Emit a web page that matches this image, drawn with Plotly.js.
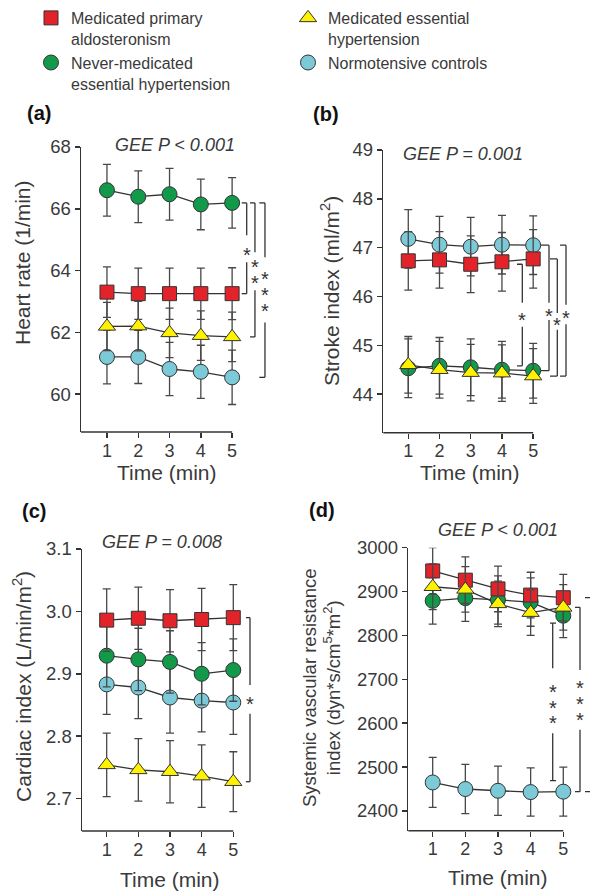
<!DOCTYPE html>
<html><head><meta charset="utf-8">
<script src="https://cdn.plot.ly/plotly-3.0.1.min.js"></script>
<style>html,body{margin:0;padding:0;background:#fff}#chart{width:590px;height:892px}</style>
</head><body><div id="chart"></div>
<script>
// ---------- data ----------
const time = [1, 2, 3, 4, 5];
const groupNames = {
  PA: 'Medicated primary<br>aldosteronism',
  EH: 'Medicated essential<br>hypertension',
  NM: 'Never-medicated<br>essential hypertension',
  NC: 'Normotensive controls'
};

// (a) Heart rate (1/min)
const hrPA = [63.30, 63.25, 63.25, 63.25, 63.25];
const hrPAErr = [0.82, 0.83, 0.83, 0.83, 0.84];
const hrEH = [62.19, 62.20, 61.98, 61.89, 61.85];
const hrEHErr = [0.78, 0.80, 0.80, 0.80, 0.80];
const hrNM = [66.60, 66.39, 66.47, 66.14, 66.19];
const hrNMErr = [0.84, 0.84, 0.84, 0.82, 0.82];
const hrNC = [61.20, 61.20, 60.81, 60.72, 60.54];
const hrNCErr = [0.87, 0.86, 0.86, 0.86, 0.88];

// (b) Stroke index (ml/m2)
const siPA = [46.73, 46.75, 46.66, 46.71, 46.77];
const siPAErr = [0.60, 0.58, 0.58, 0.60, 0.60];
const siEH = [44.60, 44.50, 44.44, 44.43, 44.37];
const siEHErr = [0.58, 0.58, 0.58, 0.58, 0.56];
const siNM = [44.53, 44.58, 44.55, 44.50, 44.48];
const siNMErr = [0.60, 0.58, 0.58, 0.58, 0.56];
const siNC = [47.18, 47.06, 47.02, 47.06, 47.05];
const siNCErr = [0.60, 0.58, 0.60, 0.60, 0.60];

// (c) Cardiac index (L/min/m2)
const ciPA = [2.986, 2.989, 2.985, 2.987, 2.990];
const ciPAErr = [0.050, 0.050, 0.050, 0.050, 0.053];
const ciEH = [2.754, 2.746, 2.743, 2.736, 2.727];
const ciEHErr = [0.051, 0.050, 0.050, 0.050, 0.048];
const ciNM = [2.929, 2.923, 2.919, 2.900, 2.906];
const ciNMErr = [0.050, 0.050, 0.050, 0.050, 0.050];
const ciNC = [2.883, 2.878, 2.862, 2.857, 2.854];
const ciNCErr = [0.048, 0.050, 0.057, 0.050, 0.051];

// (d) Systemic vascular resistance index
const svPA = [2947, 2926, 2906, 2892, 2886];
const svPAErr = [53, 53, 52, 52, 53];
const svEH = [2911, 2905, 2872, 2852, 2864];
const svEHErr = [52, 52, 52, 52, 52];
const svNM = [2879, 2885, 2881, 2876, 2845];
const svNMErr = [53, 53, 55, 55, 50];
const svNC = [2465, 2450, 2446, 2443, 2444];
const svNCErr = [57, 56, 56, 55, 56];

const yTicksA = [60, 62, 64, 66, 68];
const yTicksB = [44, 45, 46, 47, 48, 49];
const yTicksC = [2.7, 2.8, 2.9, 3.0, 3.1];
const yTicksD = [2400, 2500, 2600, 2700, 2800, 2900, 3000];

// ---------- layout helpers ----------
const W = 590, H = 892;
const X = p => p / W, Y = p => 1 - p / H;
const FONT = 'Liberation Sans, Arial, sans-serif';
const TXT = '#3a3a3a';
const INK = '#333333';

const style = {
  PA: {color: '#e3232a', symbol: 'square', size: 14, rank: 1},
  EH: {color: '#fff200', symbol: 'triangle-up', size: 15, rank: 2},
  NM: {color: '#129a4a', symbol: 'circle', size: 15, rank: 3},
  NC: {color: '#7ccad8', symbol: 'circle', size: 15, rank: 4}
};
const drawOrder = ['NC', 'NM', 'PA', 'EH'];

const panels = [
  {n: '', label: '(a)', labelPos: [39, 113], xpx: [81, 290], ypx: [432, 147], xr: [0.17, 6.85], yr: [58.77, 68],
   ticks: yTicksA, fmt: 'd',
   data: {PA: [hrPA, hrPAErr], EH: [hrEH, hrEHErr], NM: [hrNM, hrNMErr], NC: [hrNC, hrNCErr]},
   gee: '<i>GEE P &lt; 0.001</i>', geePos: [175, 145],
   ytitle: 'Heart rate (1/min)', ytitlePos: [22, 263], ytitleSize: 21,
   xtitlePos: [167, 472],
   brackets: [
     {x: 5.466, h: [5.306, 5.466], top: hrNM[4], bot: hrPA[4], gap: [65.14, 64.27], stars: [64.68]},
     {x: 5.73, h: [5.571, 5.73], top: hrNM[4], bot: hrEH[4], gap: [64.59, 63.36], stars: [64.26, 63.76]},
     {x: 6.05, h: [5.868, 6.05], top: hrNM[4], bot: hrNC[4], gap: [64.43, 62.32], stars: [63.90, 63.37, 62.84]}
   ]},
  {n: '2', label: '(b)', labelPos: [326, 114], xpx: [383.3, 580], ypx: [432.7, 150], xr: [0.2, 6.5], yr: [43.21, 49],
   ticks: yTicksB, fmt: 'd',
   data: {PA: [siPA, siPAErr], EH: [siEH, siEHErr], NM: [siNM, siNMErr], NC: [siNC, siNCErr]},
   gee: '<i>GEE P = 0.001</i>', geePos: [463, 154],
   ytitle: 'Stroke index (ml/m<sup>2</sup>)', ytitlePos: [330, 291], ytitleSize: 21,
   xtitlePos: [470, 472],
   brackets: [
     {x: 4.652, h: [4.483, 4.652], top: 46.66, bot: 44.58, gap: [45.87, 45.38], stars: [45.63]},
     {x: 5.507, h: [5.251, 5.507], top: siNC[4], bot: siNM[4], gap: [45.87, 45.52], stars: [45.70]},
     {x: 5.773, h: [5.539, 5.773], top: siPA[4], bot: siEH[4], gap: [45.66, 45.32], stars: [45.52]},
     {x: 6.052, h: [5.86, 6.052], top: siNC[4], bot: siEH[4], gap: [45.83, 45.43], stars: [45.66]}
   ]},
  {n: '3', label: '(c)', labelPos: [34, 511], xpx: [82, 280], ypx: [831, 549], xr: [0.22, 6.476], yr: [2.648, 3.1],
   ticks: yTicksC, fmt: '.1f',
   data: {PA: [ciPA, ciPAErr], EH: [ciEH, ciEHErr], NM: [ciNM, ciNMErr], NC: [ciNC, ciNCErr]},
   gee: '<i>GEE P = 0.008</i>', geePos: [162, 542],
   ytitle: 'Cardiac index (L/min/m<sup>2</sup>)', ytitlePos: [22, 687], ytitleSize: 21,
   xtitlePos: [170, 879],
   brackets: [
     {x: 5.528, h: [5.40, 5.528], top: ciPA[4], bot: ciEH[4], gap: [2.882, 2.836], stars: [2.859]}
   ]},
  {n: '4', label: '(d)', labelPos: [322, 510], xpx: [408.3, 590], ypx: [830.7, 547.7], xr: [0.253, 5.818], yr: [2355, 3000],
   ticks: yTicksD, fmt: 'd',
   data: {PA: [svPA, svPAErr], EH: [svEH, svEHErr], NM: [svNM, svNMErr], NC: [svNC, svNCErr]},
   gee: '<i>GEE P &lt; 0.001</i>', geePos: [498, 530],
   ytitle: 'Systemic vascular resistance<br>index (dyn*s/cm<sup>5</sup>*m<sup>2</sup>)', ytitlePos: [321, 688], ytitleSize: 18.5,
   xtitlePos: [498, 877],
   brackets: [
     {x: 4.676, h: [4.593, 4.777], top: 2828, bot: 2469, gap: [2725, 2577], stars: [2683, 2646, 2611]},
     {x: 5.512, h: [5.358, 5.512], top: svEH[4], bot: svNC[4], gap: [2721, 2585], stars: [2691, 2656, 2619]},
     {x: null, h: [5.665, 5.818], top: svPA[4], bot: svNC[4], gap: null, stars: [2691, 2656, 2619], starPaperX: 593.5}
   ]}
];

const lineTraces = [];
const markerTraces = [];
const shapes = [];
const annotations = [];
const layout = {
  width: W, height: H,
  margin: {l: 0, r: 0, t: 0, b: 0},
  paper_bgcolor: '#ffffff', plot_bgcolor: 'rgba(0,0,0,0)',
  font: {family: FONT, color: TXT},
  showlegend: true,
  legend: {
    orientation: 'h', x: X(31), xanchor: 'left', y: Y(1), yanchor: 'top',
    entrywidth: 212, entrywidthmode: 'pixels', valign: 'top',
    font: {size: 16, color: TXT, family: FONT}, bgcolor: 'rgba(0,0,0,0)',
    itemclick: false, itemdoubleclick: false, tracegroupgap: 0
  },
  shapes: shapes, annotations: annotations
};

panels.forEach((p, pi) => {
  const xa = 'x' + p.n, ya = 'y' + p.n;
  const xd = [X(p.xpx[0]), X(p.xpx[1])];
  const yd = [Y(p.ypx[0]), Y(p.ypx[1])];
  layout['xaxis' + p.n] = {
    domain: xd, range: p.xr, anchor: ya, showline: false, showgrid: false, zeroline: false,
    tickmode: 'array', tickvals: time, ticktext: time.map(String),
    ticks: 'outside', ticklen: 5, tickwidth: 1.5, tickcolor: INK, ticklabelstandoff: -3,
    tickfont: {size: 18, color: TXT, family: FONT}, fixedrange: true
  };
  layout['yaxis' + p.n] = {
    domain: yd, range: p.yr, anchor: xa, showline: true, linecolor: INK, linewidth: 1.5,
    showgrid: false, zeroline: false,
    tickmode: 'array', tickvals: p.ticks, tickformat: p.fmt,
    ticks: 'outside', ticklen: 5, tickwidth: 1.5, tickcolor: INK,
    tickfont: {size: 18.5, color: TXT, family: FONT}, fixedrange: true
  };
  // x axis line spans only from the axis start to the last time point
  const xEnd = xd[0] + (time[time.length - 1] - p.xr[0]) / (p.xr[1] - p.xr[0]) * (xd[1] - xd[0]);
  shapes.push({type: 'line', xref: 'paper', yref: 'paper', x0: xd[0], x1: xEnd, y0: yd[0], y1: yd[0],
    line: {color: INK, width: 1.5}});

  drawOrder.forEach(g => {
    const s = style[g];
    const [vals, err] = p.data[g];
    lineTraces.push({
      type: 'scatter', mode: 'lines', x: time, y: vals, xaxis: xa, yaxis: ya,
      showlegend: false, line: {color: INK, width: 1.3}, hoverinfo: 'skip'
    });
    markerTraces.push({
      type: 'scatter', mode: 'markers', x: time, y: vals, xaxis: xa, yaxis: ya,
      name: groupNames[g], legendrank: s.rank, showlegend: pi === 0,
      marker: {color: s.color, symbol: s.symbol, size: s.size, line: {color: INK, width: 1}},
      error_y: {type: 'data', array: err, visible: true, color: '#474747', thickness: 1.3, width: 4},
      hoverinfo: 'skip', cliponaxis: false
    });
  });

  // significance brackets
  p.brackets.forEach(b => {
    const ln = {color: INK, width: 1.3};
    shapes.push({type: 'line', xref: xa, yref: ya, x0: b.h[0], x1: b.h[1], y0: b.top, y1: b.top, line: ln});
    shapes.push({type: 'line', xref: xa, yref: ya, x0: b.h[0], x1: b.h[1], y0: b.bot, y1: b.bot, line: ln});
    if (b.x !== null) {
      shapes.push({type: 'line', xref: xa, yref: ya, x0: b.x, x1: b.x, y0: b.top, y1: b.gap[0], line: ln});
      shapes.push({type: 'line', xref: xa, yref: ya, x0: b.x, x1: b.x, y0: b.gap[1], y1: b.bot, line: ln});
    }
    b.stars.forEach(sy => {
      const a = {text: '*', showarrow: false, yref: ya, y: sy, yshift: -5,
        font: {size: 20, color: INK, family: FONT}, xanchor: 'center', yanchor: 'middle'};
      if (b.starPaperX) { a.xref = 'paper'; a.x = X(b.starPaperX); }
      else { a.xref = xa; a.x = b.x; }
      annotations.push(a);
    });
  });

  // panel label, GEE text, axis titles
  annotations.push({text: '<b>' + p.label + '</b>', xref: 'paper', yref: 'paper', x: X(p.labelPos[0]), y: Y(p.labelPos[1]),
    showarrow: false, xanchor: 'center', yanchor: 'middle', font: {size: 20, color: '#111', family: FONT}});
  annotations.push({text: p.gee, xref: 'paper', yref: 'paper', x: X(p.geePos[0]), y: Y(p.geePos[1]),
    showarrow: false, xanchor: 'center', yanchor: 'middle', font: {size: 18, color: TXT, family: FONT}});
  annotations.push({text: p.ytitle, xref: 'paper', yref: 'paper', x: X(p.ytitlePos[0]), y: Y(p.ytitlePos[1]),
    textangle: -90, showarrow: false, xanchor: 'center', yanchor: 'middle',
    font: {size: p.ytitleSize, color: TXT, family: FONT}});
  annotations.push({text: 'Time (min)', xref: 'paper', yref: 'paper', x: X(p.xtitlePos[0]), y: Y(p.xtitlePos[1]),
    showarrow: false, xanchor: 'center', yanchor: 'middle', font: {size: 21, color: TXT, family: FONT}});
});

Plotly.newPlot('chart', lineTraces.concat(markerTraces), layout, {staticPlot: true, displayModeBar: false});
</script>
</body></html>
